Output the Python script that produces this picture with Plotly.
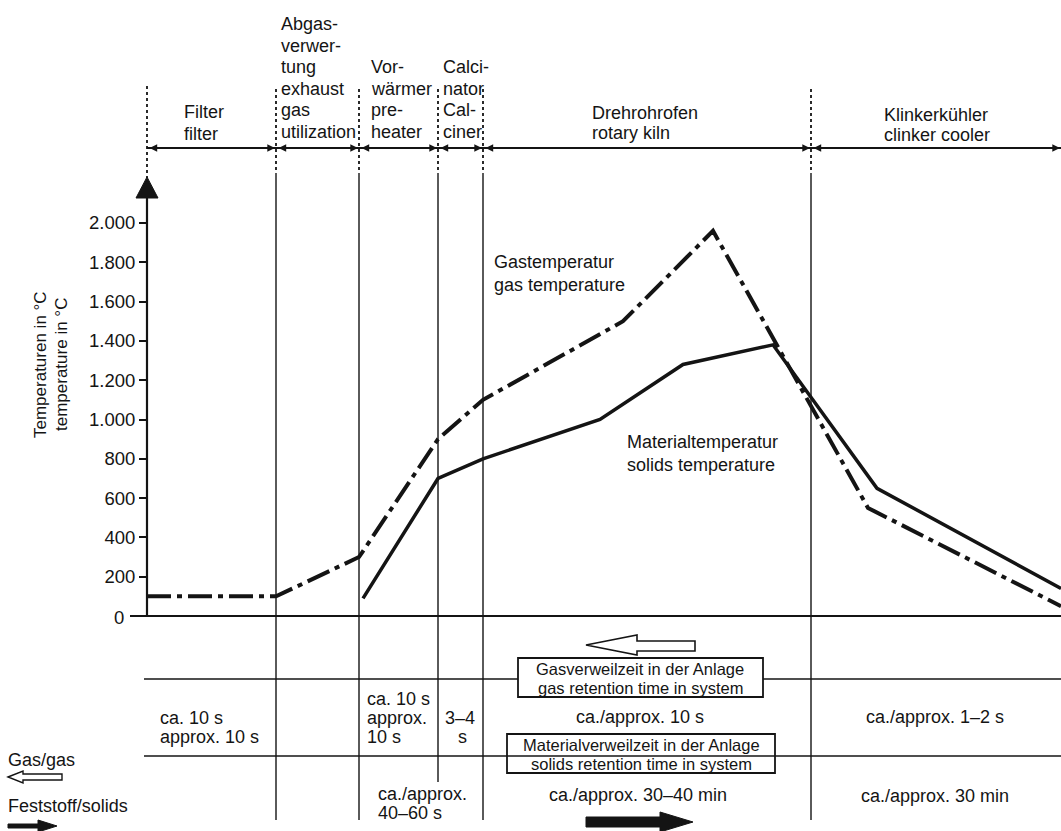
import plotly.graph_objects as go

# ---------------- data ----------------
# schematic position along the plant (arbitrary units, 0 = filter inlet)
zone_edges = [0, 129, 212, 291, 336, 664, 914]

# gas temperature (dash-dot line), degC
gas_pos = [0, 129, 212, 291, 336, 476, 566, 721, 914]
gas_temp = [100, 100, 300, 900, 1100, 1500, 1960, 550, 50]

# solids / material temperature (solid line), degC
solid_pos = [216, 291, 336, 453, 536, 626, 730, 914]
solid_temp = [90, 700, 800, 1000, 1280, 1380, 650, 140]

y_ticks = [200, 400, 600, 800, 1000, 1200, 1400, 1600, 1800, 2000]
y_tick_labels = ["200", "400", "600", "800", "1.000", "1.200", "1.400",
                 "1.600", "1.800", "2.000"]

# ---------------- page geometry helpers ----------------
W, H = 1061, 831
X0_PX = 147          # pixel column of the temperature axis
Y0_PX = 616          # pixel row of 0 degC
K = 393.0 / 2000.0   # pixels per degC


def X(px):
    return px - X0_PX


def Y(py):
    return (Y0_PX - py) / K


FONT = "Liberation Sans, Arial, Helvetica, sans-serif"
INK = "#141414"

fig = go.Figure()

fig.add_trace(go.Scatter(
    x=gas_pos, y=gas_temp, mode="lines",
    line=dict(color=INK, width=4, dash="24px,6px,5px,6px"),
    hoverinfo="skip", showlegend=False))
fig.add_trace(go.Scatter(
    x=solid_pos, y=solid_temp, mode="lines",
    line=dict(color=INK, width=3.5),
    hoverinfo="skip", showlegend=False))

shapes = []


def line(x0, y0, x1, y1, width=1.6, dash=None):
    d = dict(type="line", xref="x", yref="y", x0=X(x0), y0=Y(y0),
             x1=X(x1), y1=Y(y1), line=dict(color=INK, width=width))
    if dash:
        d["line"]["dash"] = dash
    shapes.append(d)


def poly(pts, fill, width=1.5):
    p = "M " + " L ".join(f"{X(a):.2f},{Y(b):.2f}" for a, b in pts) + " Z"
    shapes.append(dict(type="path", xref="x", yref="y", path=p,
                       fillcolor=fill, line=dict(color=INK, width=width)))


# temperature axis line + arrow
line(X0_PX, 196, X0_PX, Y0_PX, width=2.2)
poly([(136, 198), (147, 177), (158, 198)], INK, width=1)
# 0 degC baseline
line(130, Y0_PX, W, Y0_PX, width=2)

edge_px = [e + X0_PX for e in zone_edges]
# dotted upper parts of zone boundaries
for i, ex in enumerate(edge_px[:-1]):
    top = 86 if i == 0 else 89
    bot = 178 if i == 0 else 173
    line(ex, top, ex, bot, width=1.8, dash="dot")
# solid zone boundaries
for i, ex in enumerate(edge_px[1:-1]):
    bottom = 782 if i == 2 else 820
    line(ex, 173, ex, bottom, width=1.4)

# header arrow line
line(X0_PX, 148, W, 148, width=2)

# table lines
line(144, 679, W, 679, width=1.6)
line(144, 756, W, 756, width=1.6)

# boxes
shapes.append(dict(type="rect", xref="x", yref="y", x0=X(518), x1=X(763),
                   y0=Y(697), y1=Y(658), fillcolor="white",
                   line=dict(color=INK, width=1.8)))
shapes.append(dict(type="rect", xref="x", yref="y", x0=X(507), x1=X(775),
                   y0=Y(773), y1=Y(734), fillcolor="rgba(0,0,0,0)",
                   line=dict(color=INK, width=1.8)))

# hollow gas arrow above the box
poly([(586, 645), (637, 635), (637, 641), (695, 641), (695, 651),
      (637, 651), (637, 655)], "white", width=1.6)
# solid arrow at bottom
poly([(586, 817), (660, 817), (660, 812), (693, 822), (660, 832),
      (660, 827), (586, 827)], INK, width=1)
# legend arrows
poly([(8, 777), (23, 771), (23, 774), (62, 774), (62, 780), (23, 780),
      (23, 783)], "white", width=1.4)
poly([(8, 824), (38, 824), (38, 820), (57, 826), (38, 832), (38, 828),
      (8, 828)], INK, width=1)

annotations = []


def txt(s, x, y, anchor="left", size=18, angle=0):
    annotations.append(dict(
        text=s, x=X(x), y=Y(y), xref="x", yref="y", xanchor=anchor,
        yanchor="middle", showarrow=False, textangle=angle,
        font=dict(family=FONT, size=size, color=INK)))


def block(lines_, x, y0, step=21.6, anchor="left", size=18):
    for i, s in enumerate(lines_):
        txt(s, x, y0 + i * step, anchor, size)


# header arrowheads (double arrows for each zone)
for a, b in zip(edge_px[:-1], edge_px[1:]):
    annotations.append(dict(
        text="", x=X(b - 1), y=Y(148), ax=X(a + 1), ay=Y(148),
        xref="x", yref="y", axref="x", ayref="y", showarrow=True,
        arrowside="end+start", arrowhead=2, arrowsize=1.1, arrowwidth=1.4,
        arrowcolor=INK, standoff=0, startstandoff=0))

# header labels
block(["Filter", "filter"], 182, 112)
block(["Abgas-", "verwer-", "tung", "exhaust", "gas", "utilization"], 279, 24)
block(["Vor-", "wärmer", "pre-", "heater"], 369, 67)
block(["Calci-", "nator", "Cal-", "ciner"], 441, 67)
block(["Drehrohrofen", "rotary kiln"], 590, 113, step=20)
block(["Klinkerkühler", "clinker cooler"], 882, 115, step=20)

# axis title
txt("Temperaturen in °C", 40, 365, anchor="center", size=17, angle=-90)
txt("temperature in °C", 61, 365, anchor="center", size=17, angle=-90)
txt("0", 126, 617, anchor="right", size=18.5)

# curve labels
block(["Gastemperatur", "gas temperature"], 492, 262, step=23)
block(["Materialtemperatur", "solids temperature"], 625, 442, step=23)

# retention table
block(["ca. 10 s", "approx. 10 s"], 158, 718, step=19)
block(["ca. 10 s", "approx.", "10 s"], 365, 699, step=19)
txt("3–4", 460, 718, anchor="center")
txt("s", 462, 737, anchor="center")
txt("ca./approx. 10 s", 640, 717, anchor="center")
txt("ca./approx. 1–2 s", 935, 717, anchor="center")
block(["Gasverweilzeit in der Anlage", "gas retention time in system"],
      640, 669, step=19, anchor="center", size=16.5)
block(["Materialverweilzeit in der Anlage", "solids retention time in system"],
      641, 745, step=18.5, anchor="center", size=16.5)
block(["ca./approx.", "40–60 s"], 376, 794, step=19)
txt("ca./approx. 30–40 min", 638, 795, anchor="center")
txt("ca./approx. 30 min", 935, 796, anchor="center")
txt("Gas/gas", 6, 760)
txt("Feststoff/solids", 6, 806)

fig.update_layout(
    width=W, height=H,
    margin=dict(l=0, r=0, t=0, b=0, pad=0),
    paper_bgcolor="white", plot_bgcolor="white",
    showlegend=False,
    shapes=shapes, annotations=annotations,
    xaxis=dict(range=[X(0), X(W)], visible=False, fixedrange=True,
               domain=[0, 1]),
    yaxis=dict(range=[Y(H), Y(0)], domain=[0, 1], anchor="free",
               position=X0_PX / W, side="left",
               tickvals=y_ticks, ticktext=y_tick_labels,
               ticks="outside", ticklen=8, tickwidth=2, tickcolor=INK,
               showline=False, showgrid=False, zeroline=False,
               fixedrange=True,
               tickfont=dict(family=FONT, size=18.5, color=INK)),
)

fig.write_html("out.html", config={"displayModeBar": False},
               post_script="document.body.style.margin='0';"
                           "document.body.style.overflow='hidden';")
